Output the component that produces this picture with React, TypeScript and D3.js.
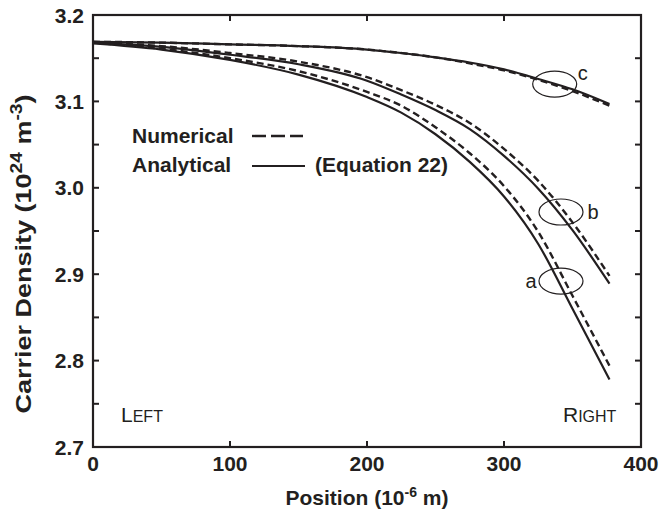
import React from "react";
import * as d3 from "d3";

const positions = [0, 50, 100, 150, 200, 225, 250, 275, 300, 325, 350, 377];
const aAnalytical = [3.167, 3.16, 3.148, 3.131, 3.105, 3.087, 3.062, 3.03, 2.99, 2.935, 2.86, 2.778];
const aNumerical = [3.168, 3.161, 3.15, 3.135, 3.111, 3.095, 3.07, 3.04, 3.002, 2.949, 2.875, 2.794];
const bAnalytical = [3.168, 3.163, 3.154, 3.143, 3.124, 3.108, 3.09, 3.068, 3.037, 2.999, 2.951, 2.889];
const bNumerical = [3.168, 3.164, 3.156, 3.146, 3.128, 3.113, 3.096, 3.075, 3.045, 3.008, 2.96, 2.898];
const cAnalytical = [3.169, 3.168, 3.166, 3.164, 3.16, 3.156, 3.151, 3.145, 3.137, 3.126, 3.114, 3.097];
const cNumerical = [3.169, 3.168, 3.166, 3.164, 3.16, 3.156, 3.151, 3.144, 3.136, 3.125, 3.112, 3.095];

const xTicks = [0, 100, 200, 300, 400];
const yTicks = [2.7, 2.8, 2.9, 3.0, 3.1, 3.2];
const yMinorTicks = [2.75, 2.85, 2.95, 3.05, 3.15];

const markerLabels = ["a", "b", "c"];
const markerX = [341.6, 341.6, 337];
const markerY = [2.892, 2.972, 3.12];

const W = 660;
const H = 519;
const M = { left: 93, right: 641, top: 15, bottom: 447 };
const ink = "#231f20";
const font = "'Liberation Sans', Arial, Helvetica, sans-serif";

export default function App() {
  const x = d3.scaleLinear().domain([0, 400]).range([M.left, M.right]);
  const y = d3.scaleLinear().domain([2.7, 3.2]).range([M.bottom, M.top]);
  const line = d3
    .line<number>()
    .x((_, i) => x(positions[i]))
    .y((d) => y(d))
    .curve(d3.curveMonotoneX);

  const solids = [aAnalytical, bAnalytical, cAnalytical];
  const dashes = [aNumerical, bNumerical, cNumerical];
  const labelOffsets = [
    { dx: -30, dy: 7 },
    { dx: 32, dy: 7 },
    { dx: 28, dy: -4 },
  ];

  return (
    <svg width={W} height={H} style={{ position: "absolute", left: 0, top: 0 }}>
      <rect x={0} y={0} width={W} height={H} fill="#fff" />
      {solids.map((s, i) => (
        <path key={"s" + i} d={line(s) || ""} fill="none" stroke={ink} strokeWidth={2.2} />
      ))}
      {dashes.map((s, i) => (
        <path
          key={"d" + i}
          d={line(s) || ""}
          fill="none"
          stroke={ink}
          strokeWidth={2.4}
          strokeDasharray="7,4"
        />
      ))}
      {markerLabels.map((l, i) => (
        <g key={l}>
          <ellipse
            cx={x(markerX[i])}
            cy={y(markerY[i])}
            rx={22}
            ry={13}
            fill="none"
            stroke={ink}
            strokeWidth={1.2}
          />
          <text
            x={x(markerX[i]) + labelOffsets[i].dx}
            y={y(markerY[i]) + labelOffsets[i].dy}
            textAnchor="middle"
            fontFamily={font}
            fontSize={20}
            fill={ink}
          >
            {l}
          </text>
        </g>
      ))}
      <rect
        x={M.left}
        y={M.top}
        width={M.right - M.left}
        height={M.bottom - M.top}
        fill="none"
        stroke={ink}
        strokeWidth={2.2}
      />
      {[...yTicks, ...yMinorTicks].map((t) => (
        <g key={"yt" + t}>
          <line x1={M.left} x2={M.left + 6} y1={y(t)} y2={y(t)} stroke={ink} strokeWidth={2} />
          <line x1={M.right} x2={M.right - 6} y1={y(t)} y2={y(t)} stroke={ink} strokeWidth={2} />
        </g>
      ))}
      {yTicks.map((t) => (
        <text
          key={"yl" + t}
          x={84}
          y={y(t) + 7.5}
          textAnchor="end"
          fontFamily={font}
          fontWeight="bold"
          fontSize={21}
          fill={ink}
        >
          {t.toFixed(1)}
        </text>
      ))}
      {xTicks.map((t) => (
        <g key={"xt" + t}>
          <line x1={x(t)} x2={x(t)} y1={M.bottom} y2={M.bottom - 6} stroke={ink} strokeWidth={2} />
          <line x1={x(t)} x2={x(t)} y1={M.top} y2={M.top + 6} stroke={ink} strokeWidth={2} />
          <text
            x={x(t)}
            y={471}
            textAnchor="middle"
            fontFamily={font}
            fontWeight="bold"
            fontSize={21}
            fill={ink}
          >
            {t}
          </text>
        </g>
      ))}
      <text
        x={(M.left + M.right) / 2}
        y={505}
        textAnchor="middle"
        fontFamily={font}
        fontWeight="bold"
        fontSize={21}
        fill={ink}
      >
        Position (10
        <tspan dy={-8} fontSize={14}>
          -6
        </tspan>
        <tspan dy={8}> m)</tspan>
      </text>
      <g transform="translate(31, 254) rotate(-90) scale(1.2, 1)">
        <text
          x={0}
          y={0}
          textAnchor="middle"
          fontFamily={font}
          fontWeight="bold"
          fontSize={22.5}
          fill={ink}
        >
          Carrier Density (10
          <tspan dy={-9} fontSize={16}>
            24
          </tspan>
          <tspan dy={9}> m</tspan>
          <tspan dy={-9} fontSize={16}>
            -3
          </tspan>
          <tspan dy={9}>)</tspan>
        </text>
      </g>
      <text x={132} y={143} fontFamily={font} fontWeight="bold" fontSize={21} fill={ink}>
        Numerical
      </text>
      <line x1={252} x2={303} y1={136} y2={136} stroke={ink} strokeWidth={2.4} strokeDasharray="14,5" />
      <text x={132} y={172} fontFamily={font} fontWeight="bold" fontSize={21} fill={ink}>
        Analytical
      </text>
      <line x1={252} x2={305} y1={166} y2={166} stroke={ink} strokeWidth={2.2} />
      <text x={315} y={172} fontFamily={font} fontWeight="bold" fontSize={21} fill={ink}>
        (Equation 22)
      </text>
      <text x={121} y={422} fontFamily={font} fontSize={21} fill={ink}>
        L<tspan fontSize={16}>EFT</tspan>
      </text>
      <text x={563} y={422} fontFamily={font} fontSize={21} fill={ink}>
        R<tspan fontSize={16}>IGHT</tspan>
      </text>
    </svg>
  );
}
